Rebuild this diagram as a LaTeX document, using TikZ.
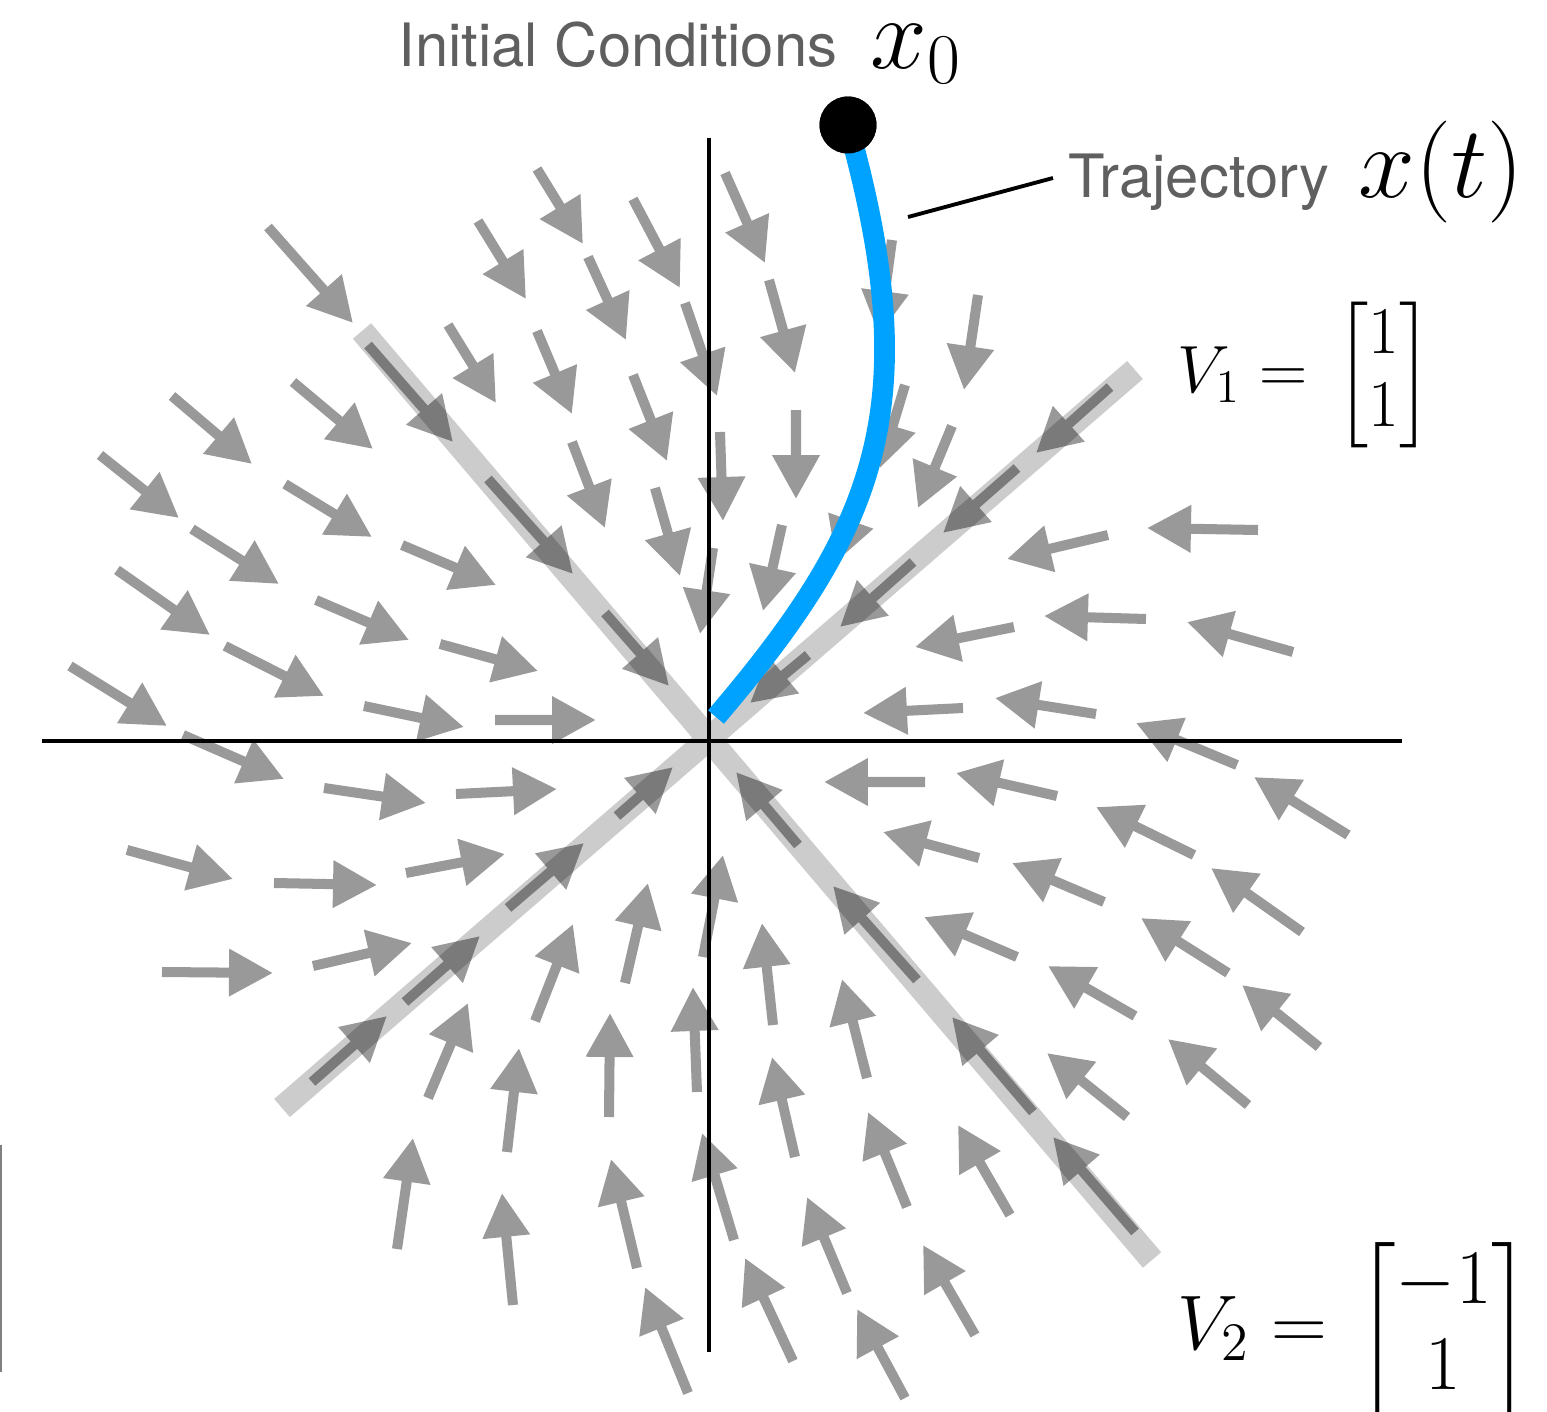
\RequirePackage{fix-cm}
\documentclass[tikz,border=0pt]{standalone}
\usepackage{amsmath}
\usepackage{fontspec}
\newfontfamily\labelfont{TeX Gyre Heros}
\usetikzlibrary{arrows.meta}
\definecolor{trajblue}{RGB}{0,162,255}
\definecolor{labelgray}{RGB}{95,95,95}
\definecolor{bandgray}{RGB}{204,204,204}

\begin{document}
\begin{tikzpicture}[x=0.01cm, y=-0.01cm,
  fieldarrow/.style={line width=2.85pt, -{Triangle[length=12.5pt, width=12.8pt]}},
  band/.style={bandgray, line width=6.8pt},
  axis/.style={black, line width=1.15pt},
  traj/.style={trajblue, line width=5.9pt},
  leader/.style={black, line width=1.1pt},
  lbl/.style={labelgray, font=\labelfont\fontsize{17}{20}\selectfont, inner sep=0pt},
  mathlbl/.style={font=\fontsize{29}{33}\selectfont, inner sep=0pt},
  eqlbl/.style={font=\fontsize{19}{21}\selectfont, inner sep=0pt},
  eqlblbig/.style={font=\fontsize{22}{24.5}\selectfont, inner sep=0pt}]
\useasboundingbox (0,0) rectangle (1547,1412);

% eigenvector lines
\coordinate (v1a) at (282,1108);
\coordinate (v1b) at (1135,370);
\coordinate (v2a) at (362,331);
\coordinate (v2b) at (1152,1260);
\draw[band] (v1a) -- (v1b);
\draw[band] (v2a) -- (v2b);

% axes
\coordinate (xl) at (42,741);
\coordinate (xr) at (1402,741);
\coordinate (yt) at (709,138);
\coordinate (yb) at (709,1352);
\draw[axis] (xl) -- (xr);
\draw[axis] (yt) -- (yb);

% vector field (tail / tip)
\foreach \ax/\ay/\bx/\by in {
  268/227/353/323, 478/221/526/299, 368/345/453/442, 448/325/496/403,
  172/396/252/464, 293/382/373/449, 100/455/179/518, 285/484/372/537,
  192/529/279/584, 402/545/496/585, 117/570/210/635, 316/600/409/640,
  440/644/538/671, 225/646/324/696, 70/666/167/726, 364/706/464/727,
  495/720/596/720, 537/169/583/244, 633/199/680/288, 725/173/765/263,
  588/257/626/340, 537/331/572/414, 685/303/717/396, 769/280/795/373,
  892/240/879/335, 633/375/667/461, 572/442/605/528, 655/488/680/576,
  720/432/723/521, 796/410/796/499, 905/385/880/468, 713/548/700/634,
  782/525/763/611, 866/478/836/562, 808/655/750/703, 488/479/573/574,
  605/613/669/686,
  978/295/964/390, 952/426/918/508, 1110/387/1036/453, 1017/468/943/533,
  913/562/840/627, 1258/530/1147/528, 1108/535/1007/559, 1146/619/1044/616,
  1293/652/1187/622, 1014/627/915/647, 963/708/863/713, 1096/714/995/698,
  1237/765/1136/723,
  798/845/736/772, 925/782/824/782, 1057/796/956/773, 979/858/883/832,
  1348/835/1254/777, 1194/855/1096/807, 1104/902/1012/863, 1302/932/1211/868,
  1017/957/924/917, 1228/973/1141/918, 1135/1016/1048/966, 1319/1047/1242/985,
  1248/1105/1168/1039, 1127/1117/1047/1053, 917/980/833/886, 1033/1112/952/1017,
  1135/1232/1053/1137, 773/1025/762/923, 867/1078/842/979, 907/1207/868/1112,
  1010/1215/958/1125, 975/1335/923/1245, 905/1398/857/1309, 793/1361/745/1258,
  847/1293/807/1197, 795/1157/772/1057,
  183/735/284/779, 324/788/426/803, 456/794/557/789, 127/850/233/879,
  274/883/377/885, 406/873/505/854, 312/1082/387/1016, 405/1002/480/936,
  508/908/584/843, 617/816/673/767, 162/972/273/973, 313/966/412/943,
  428/1098/468/1003, 535/1021/573/924, 507/1152/519/1048, 625/983/648/883,
  703/957/723/855, 609/1117/610/1013, 697/1092/693/987, 397/1249/413/1138,
  513/1305/502/1193, 637/1268/611/1159, 688/1393/645/1287, 734/1240/702/1133}
{
  \begin{scope}[transparency group, opacity=.4]
    \draw[fieldarrow] (\ax,\ay) -- (\bx,\by);
  \end{scope}
}

% left edge
\coordinate (edgetop) at (1,1145);
\coordinate (edgebot) at (1,1372);
\draw[gray, line width=0.6pt] (edgetop) -- (edgebot);

% trajectory
\node[circle, fill=black, inner sep=0pt, minimum size=16.2pt] (x0dot) at (848,125) {};
\coordinate (trajend) at (716,717);
\draw[traj] (x0dot.center) .. controls (926,405) and (878,527) .. (trajend);
\fill (x0dot.center) circle [radius=8.1pt];

% labels
\coordinate (trajpt) at (908,217);
\coordinate (leadend) at (1053,178);
\draw[leader] (trajpt) -- (leadend);

\node[lbl, anchor=base west] (initlbl) at (398,67) {Initial Conditions};
\node[mathlbl, anchor=base west] (x0lbl) at (870,68) {$x_0$};
\node[lbl, anchor=base west] (trajlbl) at (1068,198) {Trajectory};
\node[mathlbl, anchor=base west] (xtlbl) at (1358,197) {$x(t)$};
\node[eqlbl, anchor=base west] (v1lbl) at (1177,392) {$V_1 = \,\begin{bmatrix}1\\1\end{bmatrix}$};
\node[eqlblbig, anchor=base west] (v2lbl) at (1177,1349) {$V_2 = \mkern2mu\begin{bmatrix}-1\\1\end{bmatrix}$};
\end{tikzpicture}
\end{document}
